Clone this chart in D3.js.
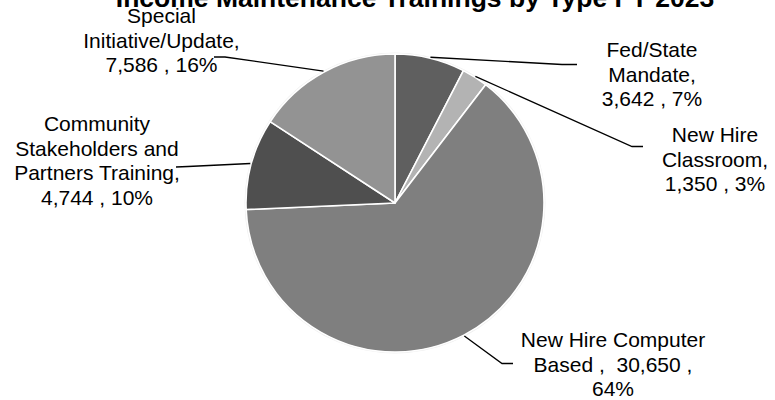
<!DOCTYPE html>
<html>
<head>
<meta charset="utf-8">
<script src="https://cdn.jsdelivr.net/npm/d3@7"></script>
<style>
  html, body { margin: 0; padding: 0; background: #fff; }
  svg { display: block; font-family: "Liberation Sans", Arial, sans-serif; }
</style>
</head>
<body>
<svg id="chart" width="775" height="400"></svg>
<script>
// ---- data ----
const title = "Income Maintenance Trainings by Type FY 2023";
const categories = ["Fed/State Mandate", "New Hire Classroom", "New Hire Computer Based",
                    "Community Stakeholders and Partners Training", "Special Initiative/Update"];
const values = [3642, 1350, 30650, 4744, 7586];
const pctLabels = ["7%", "3%", "64%", "10%", "16%"];
const nameLines = [
  ["Fed/State", "Mandate,"],
  ["New Hire", "Classroom,"],
  ["New Hire Computer"],
  ["Community", "Stakeholders and", "Partners Training,"],
  ["Special", "Initiative/Update,"]
];
const colors = ["#5f5f5f", "#b3b3b3", "#7f7f7f", "#4f4f4f", "#939393"];

// ---- layout (positions only) ----
const cx = 395, cy = 203, R = 149;
const fontSize = 21, lineH = 24.6;
const labelLayout = [
  {x: 652, y: 57,  path: [[562, 64.5], [577, 64.5]]},
  {x: 715, y: 142, path: [[632, 146.5], [643, 146.5]]},
  {x: 613, y: 347, path: [[502, 363.5], [513, 363.5]]},
  {x: 97,  y: 131, path: [[188, 166.5], [176, 167]]},
  {x: 161.5, y: 23, path: [[225, 57], [214, 57]]}
];

const fmt = d3.format(",");
function labelText(i) {
  const lines = nameLines[i].slice();
  const v = fmt(values[i]);
  if (i === 2) {
    lines.push("Based ,  " + v + " ,");
    lines.push(pctLabels[i]);
  } else {
    lines.push(v + " , " + pctLabels[i]);
  }
  return lines;
}

const svg = d3.select("#chart");

const pie = d3.pie().sort(null).value(d => d)(values);
const arc = d3.arc().innerRadius(0).outerRadius(R);
const g = svg.append("g").attr("transform", `translate(${cx},${cy})`);

g.append("circle").attr("r", R + 1.5).attr("fill", "#f0f0f0");

g.selectAll("path.slice").data(pie).join("path")
  .attr("class", "slice")
  .attr("d", arc)
  .attr("fill", (d, i) => colors[i])
  .attr("stroke", "#ffffff")
  .attr("stroke-width", 1.6)
  .attr("stroke-linejoin", "round");

// leader lines
const outerPt = d => {
  const a = (d.startAngle + d.endAngle) / 2;
  return [cx + (R + 1) * Math.sin(a), cy - (R + 1) * Math.cos(a)];
};
pie.forEach((d, i) => {
  const pts = [outerPt(d)].concat(labelLayout[i].path);
  svg.append("path")
    .attr("d", d3.line()(pts))
    .attr("fill", "none")
    .attr("stroke", "#000")
    .attr("stroke-width", 1.3);
});

// labels
pie.forEach((d, i) => {
  const L = labelLayout[i];
  const t = svg.append("text")
    .attr("text-anchor", "middle")
    .attr("font-size", fontSize)
    .attr("fill", "#000")
    .style("white-space", "pre");
  labelText(i).forEach((ln, k) => {
    t.append("tspan").attr("x", L.x).attr("y", L.y + k * lineH).text(ln);
  });
});

// title
svg.append("text")
  .attr("x", 415).attr("y", 6.5)
  .attr("text-anchor", "middle")
  .attr("font-size", 26.5)
  .attr("font-weight", "bold")
  .attr("fill", "#000")
  .text(title);
</script>
</body>
</html>
